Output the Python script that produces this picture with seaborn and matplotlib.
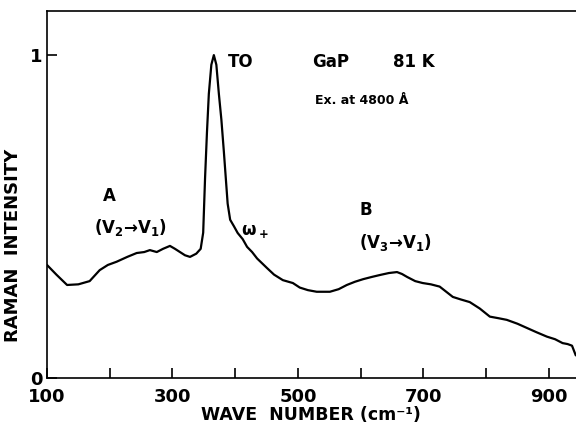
import pandas as pd
import seaborn as sns
import matplotlib.pyplot as plt

# Raman spectrum of GaP at 81 K
wave_number = [100, 115, 132, 150, 168, 184, 197, 211, 228, 243, 255, 264, 275, 285,
               296, 304, 312, 320, 328, 338, 345, 349, 352, 355, 358, 362, 366, 370,
               374, 378, 382, 385, 388, 392, 398, 404, 412, 419, 427, 435, 443, 451,
               462, 476, 492, 503, 516, 530, 551, 565, 578, 591, 604, 618, 631, 645,
               658, 666, 674, 687, 699, 712, 726, 747, 760, 774, 790, 806, 820, 833,
               850, 865, 880, 897, 910, 922, 930, 937, 943]
intensity = [0.35, 0.32, 0.288, 0.29, 0.30, 0.334, 0.35, 0.36, 0.375, 0.387, 0.39, 0.396,
             0.39, 0.40, 0.409, 0.40, 0.39, 0.38, 0.375, 0.385, 0.40, 0.45, 0.62, 0.76,
             0.88, 0.97, 1.0, 0.97, 0.88, 0.80, 0.70, 0.62, 0.54, 0.49, 0.47, 0.449,
             0.43, 0.406, 0.39, 0.37, 0.355, 0.34, 0.32, 0.303, 0.294, 0.28, 0.272,
             0.267, 0.267, 0.275, 0.288, 0.298, 0.306, 0.313, 0.319, 0.325, 0.328,
             0.322, 0.313, 0.30, 0.294, 0.29, 0.283, 0.251, 0.243, 0.235, 0.215, 0.19,
             0.185, 0.18, 0.168, 0.155, 0.142, 0.128, 0.12, 0.108, 0.105, 0.10, 0.07]

df = pd.DataFrame({"wave": wave_number, "intensity": intensity})

sns.set_style("ticks")
plt.rcParams["font.family"] = ["DejaVu Sans"]
plt.rcParams["font.weight"] = "bold"
for key in ["text.color", "axes.labelcolor", "xtick.color", "ytick.color", "axes.edgecolor"]:
    plt.rcParams[key] = "black"

fig = plt.figure(figsize=(5.76, 4.3), dpi=100)
ax = fig.add_axes([0.0816, 0.121, 0.918, 0.853])

sns.lineplot(data=df, x="wave", y="intensity", color="black", linewidth=1.6, ax=ax)

ax.set_xlim(100, 943)
ax.set_ylim(0, 1.136)
ax.set_xticks([100, 200, 300, 400, 500, 600, 700, 800, 900])
ax.set_xticklabels(["100", "", "300", "", "500", "", "700", "", "900"])
ax.set_yticks([0, 1])
ax.set_yticklabels(["0", "1"])
ax.tick_params(direction="in", length=7, width=1.2, labelsize=13)
ax.tick_params(axis="x", pad=7)
ax.spines["right"].set_visible(False)
for s in ["left", "bottom", "top"]:
    ax.spines[s].set_linewidth(1.2)

ax.set_xlabel("WAVE  NUMBER (cm⁻¹)", fontsize=12.5, fontweight="bold", labelpad=0)
ax.set_ylabel("RAMAN  INTENSITY", fontsize=13, fontweight="bold")
ax.yaxis.set_label_coords(-0.048, 0.362)

# annotations
ax.text(388, 0.98, "TO", fontsize=12, fontweight="bold", va="center")
ax.text(522, 0.98, "GaP", fontsize=12, fontweight="bold", va="center")
ax.text(651, 0.98, "81 K", fontsize=12, fontweight="bold", va="center")
ax.text(527, 0.86, "Ex. at 4800 Å", fontsize=9, fontweight="bold", va="center")
ax.text(200, 0.565, "A", fontsize=12, fontweight="bold", ha="center", va="center")
ax.text(233, 0.465, "(V$_2$→V$_1$)", fontsize=12, fontweight="bold", ha="center", va="center")
ax.text(432, 0.455, "ω$_+$", fontsize=12, fontweight="bold", ha="center", va="center")
ax.text(608, 0.52, "B", fontsize=12, fontweight="bold", ha="center", va="center")
ax.text(656, 0.42, "(V$_3$→V$_1$)", fontsize=12, fontweight="bold", ha="center", va="center")

plt.savefig("out.png", dpi=100)
